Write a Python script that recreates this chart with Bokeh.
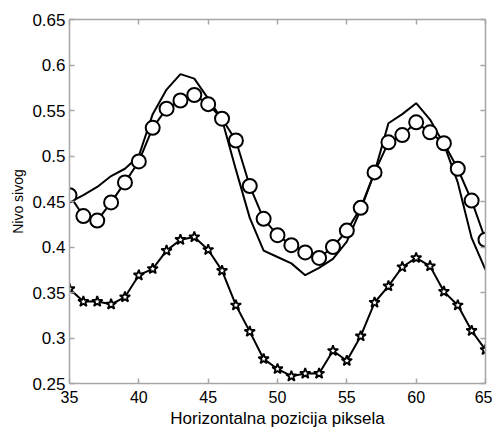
from bokeh.plotting import figure
from bokeh.models import Range1d, FixedTicker, LinearAxis, CustomJSTickFormatter
from bokeh.embed import file_html
from bokeh.resources import INLINE

# ---- data ----
x_pos = [35, 36, 37, 38, 39, 40, 41, 42, 43, 44, 45, 46, 47, 48, 49, 50,
         51, 52, 53, 54, 55, 56, 57, 58, 59, 60, 61, 62, 63, 64, 65]

plain_line = [0.449, 0.457, 0.466, 0.478, 0.486, 0.500, 0.546, 0.573, 0.590, 0.585,
              0.563, 0.540, 0.485, 0.432, 0.396, 0.389, 0.382, 0.369, 0.377, 0.387,
              0.406, 0.441, 0.482, 0.536, 0.546, 0.558, 0.540, 0.513, 0.471, 0.410,
              0.375]

circle_series = [0.457, 0.434, 0.429, 0.449, 0.471, 0.494, 0.531, 0.552, 0.561, 0.567,
                 0.557, 0.541, 0.517, 0.467, 0.431, 0.413, 0.402, 0.394, 0.388, 0.400,
                 0.418, 0.443, 0.482, 0.515, 0.523, 0.537, 0.526, 0.514, 0.486, 0.451,
                 0.408]

star_series = [0.354, 0.340, 0.340, 0.337, 0.345, 0.369, 0.376, 0.396, 0.408, 0.411,
               0.397, 0.374, 0.336, 0.307, 0.277, 0.266, 0.258, 0.261, 0.261, 0.286,
               0.275, 0.302, 0.339, 0.357, 0.378, 0.388, 0.379, 0.351, 0.336, 0.308,
               0.287]

x_ticks = [35, 40, 45, 50, 55, 60, 65]
y_ticks = [0.25, 0.30, 0.35, 0.40, 0.45, 0.50, 0.55, 0.60, 0.65]

x_label = "Horizontalna pozicija piksela"
y_label = "Nivo sivog"

FONT = "Liberation Sans"
AXIS_GRAY = "#a6a6a6"

p = figure(width=492, height=430, output_backend="svg", toolbar_location=None,
           x_range=Range1d(35, 65), y_range=Range1d(0.25, 0.65),
           min_border_left=69, min_border_right=7, min_border_top=19,
           min_border_bottom=43)
p.outline_line_color = None
p.xgrid.visible = False
p.ygrid.visible = False
p.background_fill_color = "white"
p.border_fill_color = "white"

fmt = CustomJSTickFormatter(code="return tick.toFixed(2).replace(/0$/, '');")


def style_axis(ax, ticks, show_labels):
    ax.ticker = FixedTicker(ticks=ticks)
    ax.axis_line_color = AXIS_GRAY
    ax.axis_line_width = 1.5
    ax.major_tick_line_color = AXIS_GRAY
    ax.major_tick_line_width = 1.5
    ax.major_tick_in = 5
    ax.major_tick_out = 0
    ax.minor_tick_line_color = None
    ax.major_label_text_font = FONT
    if show_labels:
        ax.major_label_text_color = "black"
        ax.major_label_text_font_size = "16px"
        ax.major_label_standoff = 7
    else:
        ax.major_label_text_color = None
        ax.major_label_text_font_size = "1px"
        ax.major_label_standoff = 0


style_axis(p.xaxis[0], x_ticks, True)
style_axis(p.yaxis[0], y_ticks, True)
p.yaxis[0].formatter = fmt
p.yaxis[0].major_label_text_font_size = "17px"
p.yaxis[0].major_label_standoff = 4

p.xaxis[0].axis_label = x_label
p.xaxis[0].axis_label_text_font = FONT
p.xaxis[0].axis_label_text_font_style = "normal"
p.xaxis[0].axis_label_text_font_size = "17px"
p.xaxis[0].axis_label_text_color = "black"
p.xaxis[0].axis_label_standoff = 3

p.yaxis[0].axis_label = y_label
p.yaxis[0].axis_label_text_font = FONT
p.yaxis[0].axis_label_text_font_style = "normal"
p.yaxis[0].axis_label_text_font_size = "14px"
p.yaxis[0].axis_label_text_color = "black"
p.yaxis[0].axis_label_standoff = 3

top_ax = LinearAxis()
style_axis(top_ax, x_ticks, False)
p.add_layout(top_ax, "above")
right_ax = LinearAxis()
style_axis(right_ax, y_ticks, False)
p.add_layout(right_ax, "right")

# plain line
p.line(x_pos, plain_line, line_color="black", line_width=2)

# circle series
p.line(x_pos, circle_series, line_color="black", line_width=2)
p.scatter(x_pos, circle_series, marker="circle", size=14, fill_color="white",
          line_color="black", line_width=2)

# star series
p.line(x_pos, star_series, line_color="black", line_width=2)
p.scatter(x_pos, star_series, marker="star", size=11, fill_color="white",
          line_color="black", line_width=1.8)

open("out.html", "w").write(file_html(p, INLINE))
